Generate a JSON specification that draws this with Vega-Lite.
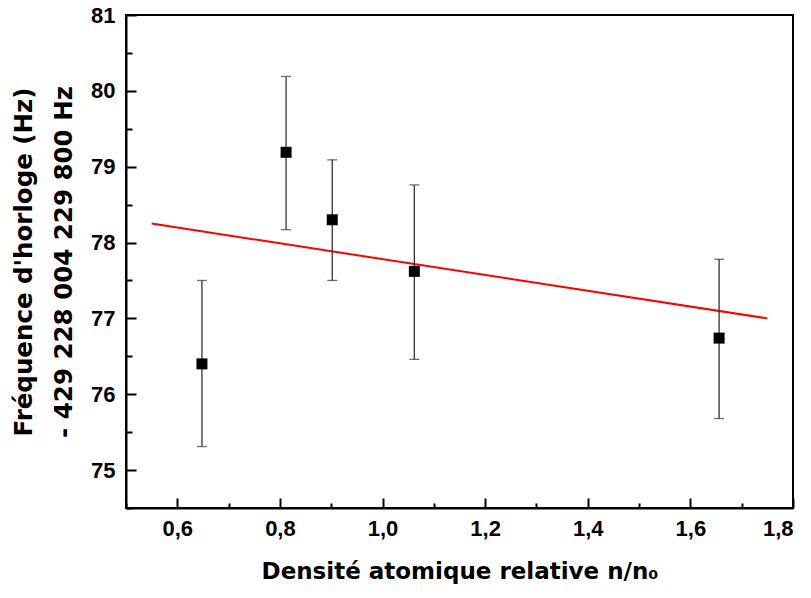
{
  "$schema": "https://vega.github.io/schema/vega-lite/v6.json",
  "width": 667,
  "height": 493,
  "autosize": {"type": "none"},
  "padding": {"left": 126, "top": 15, "right": 18, "bottom": 90},
  "background": "white",
  "config": {
    "view": {"stroke": "black", "strokeWidth": 2},
    "font": "Liberation Sans",
    "axis": {
      "grid": false,
      "domainColor": "black",
      "domainWidth": 2,
      "tickColor": "black",
      "tickWidth": 2,
      "labelFont": "Liberation Sans",
      "labelFontWeight": "bold",
      "labelFontSize": 22,
      "labelColor": "black",
      "titleFont": "DejaVu Sans",
      "titleFontWeight": "bold",
      "titleFontSize": 23,
      "titleColor": "black"
    }
  },
  "datasets": {
    "pts": [
      {"n": 0.648, "f": 76.40, "lo": 75.31, "hi": 77.50},
      {"n": 0.812, "f": 79.19, "lo": 78.17, "hi": 80.19},
      {"n": 0.902, "f": 78.30, "lo": 77.50, "hi": 79.09},
      {"n": 1.062, "f": 77.62, "lo": 76.46, "hi": 78.76},
      {"n": 1.656, "f": 76.74, "lo": 75.68, "hi": 77.78}
    ],
    "fit": [
      {"n": 0.55, "f": 78.25},
      {"n": 1.75, "f": 77.0}
    ]
  },
  "layer": [
    {
      "data": {"name": "fit"},
      "mark": {"type": "line", "color": "#ff0000", "strokeWidth": 2},
      "encoding": {
        "x": {
          "field": "n", "type": "quantitative",
          "scale": {"domain": [0.5, 1.8], "nice": false, "zero": false},
          "axis": {"orient": "bottom", "values": [0.5, 0.7, 0.9, 1.1, 1.3, 1.5, 1.7], "labels": false, "domain": false, "tickSize": -5, "title": null}
        },
        "y": {
          "field": "f", "type": "quantitative",
          "scale": {"domain": [74.5, 81], "nice": false, "zero": false},
          "axis": {"orient": "left", "values": [74.5, 75.5, 76.5, 77.5, 78.5, 79.5, 80.5], "labels": false, "domain": false, "tickSize": -6, "title": null}
        }
      }
    },
    {
      "data": {"name": "pts"},
      "layer": [
        {
          "mark": {"type": "errorbar", "color": "#333333", "thickness": 1.3, "ticks": {"size": 10, "color": "#333333", "thickness": 1.3}},
          "encoding": {
            "x": {
              "field": "n", "type": "quantitative",
              "scale": {"domain": [0.5, 1.8], "nice": false, "zero": false},
              "title": "Densité atomique relative n/n₀"
            },
            "y": {
              "field": "lo", "type": "quantitative",
              "scale": {"domain": [74.5, 81], "nice": false, "zero": false},
              "title": ["Fréquence d'horloge (Hz)", "- 429 228 004 229 800 Hz"]
            },
            "y2": {"field": "hi"}
          }
        },
        {
          "mark": {"type": "square", "color": "black", "opacity": 1, "size": 121, "filled": true},
          "encoding": {
            "x": {
              "field": "n", "type": "quantitative",
              "scale": {"domain": [0.5, 1.8], "nice": false, "zero": false},
              "title": "Densité atomique relative n/n₀",
              "axis": {
                "orient": "bottom",
                "values": [0.6, 0.8, 1.0, 1.2, 1.4, 1.6, 1.8],
                "labelExpr": "replace(format(datum.value, '.1f'), '.', ',')",
                "tickSize": -10,
                "labelPadding": 20,
                "titlePadding": 21,
                "titleFontSize": 23
              }
            },
            "y": {
              "field": "f", "type": "quantitative",
              "scale": {"domain": [74.5, 81], "nice": false, "zero": false},
              "title": ["Fréquence d'horloge (Hz)", "- 429 228 004 229 800 Hz"],
              "axis": {
                "orient": "left",
                "values": [75, 76, 77, 78, 79, 80, 81],
                "format": "d",
                "tickSize": -10,
                "labelPadding": 21,
                "titlePadding": 14,
                "titleFontSize": 24.5,
                "titleLineHeight": 40
              }
            }
          }
        }
      ]
    }
  ],
  "resolve": {"axis": {"x": "independent", "y": "independent"}}
}
